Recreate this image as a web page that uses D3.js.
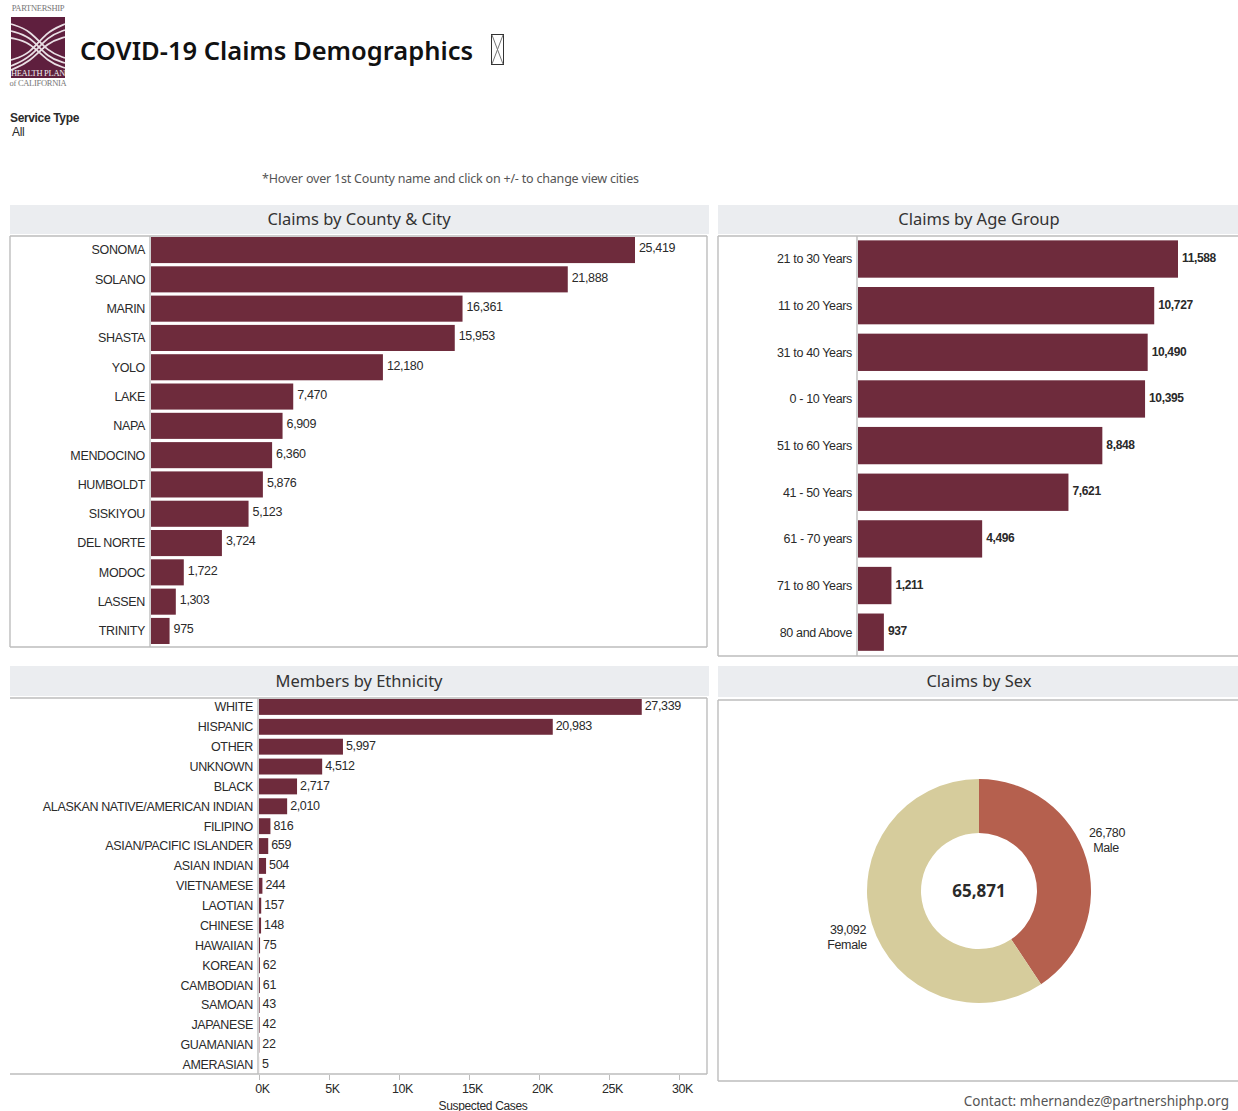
<!DOCTYPE html>
<html><head><meta charset="utf-8">
<script src="https://cdn.jsdelivr.net/npm/d3@7/dist/d3.min.js"></script>
<style>
html,body{margin:0;padding:0;background:#fff;overflow:hidden}
svg{display:block}
text{font-family:"Liberation Sans",Arial,sans-serif;font-size:12.5px;fill:#2a2a2a;letter-spacing:-.35px}
.hd{font-family:"Noto Sans",sans-serif;font-size:16.5px;fill:#333;letter-spacing:0}
.domain{display:none}
</style></head><body>
<script>
const countyNames=["SONOMA","SOLANO","MARIN","SHASTA","YOLO","LAKE","NAPA","MENDOCINO","HUMBOLDT","SISKIYOU","DEL NORTE","MODOC","LASSEN","TRINITY"];
const countyValues=[25419,21888,16361,15953,12180,7470,6909,6360,5876,5123,3724,1722,1303,975];
const ageNames=["21 to 30 Years","11 to 20 Years","31 to 40 Years","0 - 10 Years","51 to 60 Years","41 - 50 Years","61 - 70 years","71 to 80 Years","80 and Above"];
const ageValues=[11588,10727,10490,10395,8848,7621,4496,1211,937];
const ethNames=["WHITE","HISPANIC","OTHER","UNKNOWN","BLACK","ALASKAN NATIVE/AMERICAN INDIAN","FILIPINO","ASIAN/PACIFIC ISLANDER","ASIAN INDIAN","VIETNAMESE","LAOTIAN","CHINESE","HAWAIIAN","KOREAN","CAMBODIAN","SAMOAN","JAPANESE","GUAMANIAN","AMERASIAN"];
const ethValues=[27339,20983,5997,4512,2717,2010,816,659,504,244,157,148,75,62,61,43,42,22,5];
const ethTicks=[0,5000,10000,15000,20000,25000,30000];
const sexNames=["Male","Female"];
const sexValues=[26780,39092];
const sexColors=["#b5604e","#d6cc9c"];
const totalClaims=65871;
const BAR="#6e2b3c",LINE="#bdbdbd",HEAD="#ebedf0";

const svg=d3.select("body").append("svg").attr("width",1238).attr("height",1111);
const fmt=d3.format(",");

// logo
const logo=svg.append("g");
const small=(t,x,y,s)=>logo.append("text").attr("x",x).attr("y",y).attr("text-anchor","middle")
  .style("font-family","Liberation Serif,serif").style("font-size",s+"px").style("fill","#777").style("letter-spacing","-.3px").text(t);
small("PARTNERSHIP",38,11,8.5);
logo.append("rect").attr("x",11).attr("y",17).attr("width",54).attr("height",61).attr("fill","#5f1f3e");
[[24,40,50,62],[30,44,46,68],[36,40,50,56]].forEach(()=>{});
const wave=d3.line().curve(d3.curveBasis);
[[[11,24],[30,30],[48,52],[65,58]],[[11,31],[30,36],[48,58],[65,63]],[[11,38],[30,42],[48,62],[65,68]],
 [[11,60],[30,54],[46,32],[65,24]],[[11,66],[30,58],[48,36],[65,30]],[[11,70],[30,62],[48,42],[65,37]]].forEach(p=>{
  logo.append("path").attr("d",wave(p)).attr("fill","none").attr("stroke","#e9dfe4").attr("stroke-width",1.8);
});
logo.append("text").attr("x",38).attr("y",76).attr("text-anchor","middle").style("font-family","Liberation Serif,serif").style("font-size","8.5px").style("fill","#eee").style("letter-spacing","-.3px").text("HEALTH PLAN");
small("of CALIFORNIA",38,86,8.5);

// title
svg.append("text").attr("x",80).attr("y",60).style("font-family","Noto Sans,sans-serif").style("font-size","25.5px").style("font-weight",600).style("fill","#111").style("letter-spacing","0").text("COVID-19 Claims Demographics");
const gb=svg.append("g").attr("fill","none").attr("stroke","#333").attr("stroke-width",1);
gb.append("rect").attr("x",491.5).attr("y",34.5).attr("width",12).attr("height",30);
gb.append("path").attr("d","M492 35L503 64M503 35L492 64").attr("stroke","#777");

svg.append("text").attr("x",10).attr("y",122).style("font-weight",700).style("font-size","12px").text("Service Type");
svg.append("text").attr("x",12).attr("y",136).style("font-size","12px").text("All");
svg.append("text").attr("x",262).attr("y",183).style("font-family","Noto Sans,sans-serif").style("font-size","12.5px").style("fill","#555").style("letter-spacing","-.2px").text("*Hover over 1st County name and click on +/- to change view cities");

function header(x,y,w,h,t,cx){
  svg.append("rect").attr("x",x).attr("y",y).attr("width",w).attr("height",h).attr("fill",HEAD);
  svg.append("text").attr("class","hd").attr("x",cx).attr("y",y+h/2+5.5).attr("text-anchor","middle").text(t);
}
const ln=(x1,y1,x2,y2)=>svg.append("line").attr("x1",x1).attr("y1",y1).attr("x2",x2).attr("y2",y2).attr("stroke",LINE).attr("stroke-width",1.4);

header(10,205,699,29,"Claims by County & City",359);
header(718,205,520,29,"Claims by Age Group",979);
header(10,666,699,30,"Members by Ethnicity",359);
header(718,666,520,31,"Claims by Sex",979);

// frames
ln(10,236,707,236);ln(10,236,10,647);ln(10,647,707,647);ln(707,236,707,647);ln(150,236,150,647);
ln(718,236,1238,236);ln(718,236,718,656);ln(718,656,1238,656);ln(857,236,857,656);
ln(10,698,707,698);ln(707,698,707,1074);ln(10,1074,707,1074);ln(258,698,258,1074);
ln(718,700,1238,700);ln(718,700,718,1081);ln(718,1081,1238,1081);

function bars(names,vals,yr,pad,x0,sc,opts={}){
  const y=d3.scaleBand().domain(names).range(yr).paddingInner(pad).paddingOuter(pad/2);
  const x=d3.scaleLinear().domain([0,sc[0]]).range([x0,x0+sc[1]]);
  const g=svg.append("g");
  g.selectAll("rect").data(names).join("rect")
    .attr("x",x(0)).attr("y",d=>y(d)).attr("width",(d,i)=>x(vals[i])-x(0)).attr("height",y.bandwidth()).attr("fill",BAR);
  g.selectAll(".v").data(names).join("text").attr("class","v")
    .attr("x",(d,i)=>x(vals[i])+(opts.vgap||4)).attr("y",d=>y(d)+y.bandwidth()/2+(opts.dy||0))
    .attr("dy",".35em").style("font-weight",opts.bold?700:400).style("font-size",opts.fs||"12.5px").text((d,i)=>fmt(vals[i]));
  g.selectAll(".l").data(names).join("text").attr("class","l")
    .attr("x",x0-6).attr("y",d=>y(d)+y.bandwidth()/2).attr("dy",".35em").attr("text-anchor","end").text(d=>d);
  return x;
}
bars(countyNames,countyValues,[235.4,645.6],.11,151,[25419,484],{dy:-2});
bars(ageNames,ageValues,[235.7,655.5],.2,858,[11588,320],{bold:true,fs:"12px",dy:-1});
const ex=bars(ethNames,ethValues,[697,1074.6],.2,259,[30000,420],{dy:-1,vgap:3});

// axis
const axis=d3.axisBottom(ex).tickValues(ethTicks).tickFormat(d=>(d/1000)+"K").tickSize(5).tickPadding(4);
const ag=svg.append("g").attr("transform","translate(0,1075)").call(axis);
ag.selectAll("line").attr("stroke",LINE);
ag.selectAll("text").attr("fill",null).style("font-size","12.5px").attr("dx","3");
svg.append("text").attr("x",483).attr("y",1110).attr("text-anchor","middle").style("font-size","12px").text("Suspected Cases");

// donut
const pie=d3.pie().sort(null)(sexValues);
const arc=d3.arc().innerRadius(58).outerRadius(112);
const dg=svg.append("g").attr("transform","translate(979,891)");
dg.selectAll("path").data(pie).join("path").attr("d",arc).attr("fill",(d,i)=>sexColors[i]);
dg.append("text").attr("text-anchor","middle").attr("y",6).style("font-size","17px").style("font-weight",700).style("letter-spacing","0").style("font-family","Open Sans,sans-serif").text(fmt(totalClaims));
const sexLab=[[1107,837],[848,934]];
sexNames.forEach((n,i)=>{
  svg.append("text").attr("x",sexLab[i][0]).attr("y",sexLab[i][1]).attr("text-anchor","middle").text(fmt(sexValues[i]));
  svg.append("text").attr("x",sexLab[i][0]-1).attr("y",sexLab[i][1]+15).attr("text-anchor","middle").text(n);
});
svg.append("text").attr("x",1229).attr("y",1106).attr("text-anchor","end").style("font-family","Noto Sans,sans-serif").style("font-size","13.5px").style("fill","#555").style("letter-spacing","0").text("Contact: mhernandez@partnershiphp.org");
</script>
</body></html>
